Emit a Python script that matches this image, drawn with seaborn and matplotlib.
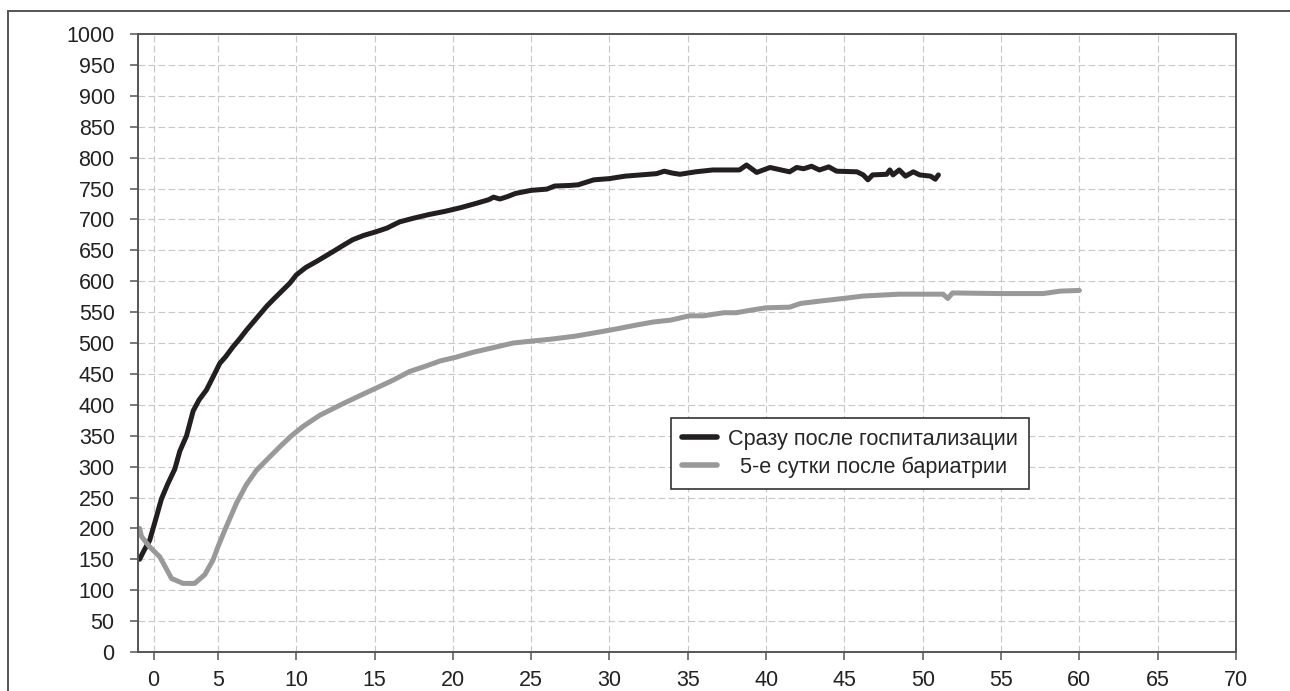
import matplotlib
matplotlib.use("Agg")
import matplotlib.pyplot as plt
import seaborn as sns
import pandas as pd
from matplotlib.patches import Rectangle

# curve 1: right after hospitalisation
black_x = [0.0, 0.3, 0.65, 1.0, 1.4, 1.8, 2.25, 2.57, 3.0, 3.42, 3.8, 4.27, 4.69, 5.12, 5.5,
           5.97, 6.4, 6.83, 7.5, 8.1, 8.6, 9.16, 9.6, 10.0, 10.6, 11.3, 12.36, 13.0, 13.6, 14.3,
           15.1, 15.8, 16.6, 17.5, 18.5, 19.5, 20.5, 21.5, 22.3, 22.6, 23.0, 23.5, 24.0, 25.0,
           26.0, 26.5, 27.5, 28.0, 29.0, 30.0, 31.0, 32.0, 33.0, 33.5, 34.0, 34.5, 35.5, 36.6,
           38.3, 38.75, 39.4, 40.25, 41.5, 41.95, 42.4, 42.9, 43.4, 44.0, 44.5, 45.8, 46.2,
           46.5, 46.8, 47.7, 47.9, 48.1, 48.5, 48.9, 49.4, 49.8, 50.5, 50.8, 51.0]
black_y = [150, 165, 181, 212, 248, 272, 296, 325, 350, 390, 408, 424, 445, 467, 478,
           494, 507, 521, 541, 559, 572, 586, 597, 610, 622, 632, 648, 658, 667, 674,
           680, 686, 696, 702, 708, 713, 719, 726, 732, 736, 733, 737, 742, 747,
           749, 754, 755, 756, 764, 766, 770, 772, 774, 778, 775, 773, 777, 780,
           780, 788, 776, 784, 777, 784, 782, 786, 780, 785, 778, 777, 772,
           764, 772, 773, 780, 772, 780, 770, 777, 772, 770, 765, 772]

# curve 2: 5th day after bariatric surgery
gray_x = [0.0, 0.05, 0.12, 0.65, 1.29, 1.7, 2.04, 2.78, 3.52, 4.16, 4.69, 5.0, 5.44, 6.19,
          6.8, 7.46, 8.2, 8.95, 9.7, 10.44, 11.5, 13.0, 14.0, 15.1, 16.2, 17.25, 18.2, 19.2,
          20.2, 21.3, 22.5, 23.85, 25.0, 26.2, 27.8, 29.4, 30.5, 31.7, 32.8, 33.9, 35.1, 36.0,
          37.3, 38.1, 39.0, 40.0, 41.5, 42.2, 43.5, 44.9, 46.2, 48.5, 51.3, 51.6, 51.9, 54.9,
          57.7, 58.8, 60.0]
gray_y = [200, 195, 187, 170, 154, 135, 119, 111, 111, 125, 149, 170, 197, 241,
          270, 294, 313, 332, 350, 365, 383, 402, 414, 427, 440, 454, 462, 471,
          477, 485, 492, 500, 503, 506, 511, 518, 523, 529, 534, 537, 544, 544,
          549, 549, 553, 557, 558, 564, 568, 572, 576, 579, 579, 572, 581, 580,
          580, 584, 585]

labels = ["Сразу после госпитализации", "5-е сутки после бариатрии"]
tick_labels = [str(v) for v in range(0, 71, 5)]

sns.set_theme(style="white")
plt.rcParams['font.family'] = ['Liberation Sans', 'DejaVu Sans']

df = pd.concat([
    pd.DataFrame({"x": black_x, "y": black_y, "series": labels[0]}),
    pd.DataFrame({"x": gray_x, "y": gray_y, "series": labels[1]}),
])

fig = plt.figure(figsize=(12.9, 6.91), dpi=100)
ax = fig.add_axes([138/1290, 1 - 652/691, (1236-138)/1290, (652-34)/691])

sns.lineplot(data=df, x="x", y="y", hue="series", estimator=None, sort=False,
             palette={labels[0]: "#231f20", labels[1]: "#999999"},
             linewidth=3.6, ax=ax)
for ln in ax.get_lines():
    ln.set_solid_capstyle("round")
    ln.set_solid_joinstyle("round")

ax.set_xlim(-0.1, 70)
ax.set_ylim(0, 1000)
ax.set_xticks([0.9] + list(range(5, 71, 5)))
ax.set_xticklabels(tick_labels)
ax.set_yticks(range(0, 1001, 50))
ax.set_xlabel("")
ax.set_ylabel("")

ax.grid(True, color="#c8c8c8", linestyle=(0, (6, 3)), linewidth=0.8)
for s in ax.spines.values():
    s.set_color("#555555")
    s.set_linewidth(1.4)
ax.tick_params(axis="both", direction="out", length=5.8, width=1.1, color="#555555",
               labelsize=15.5, labelcolor="#222222")
ax.tick_params(axis="y", pad=11, left=True)
ax.tick_params(axis="x", pad=7, bottom=True)

leg = ax.legend(loc="upper left", bbox_to_anchor=((671-138)/1098, (652-418)/618),
                borderaxespad=0, fontsize=15.6, frameon=True, fancybox=False,
                handlelength=1.6, handletextpad=0.55, borderpad=0.5, labelspacing=0.32,
                edgecolor="#333333", framealpha=1)
leg.get_frame().set_linewidth(1.2)
for h in leg.get_lines():
    h.set_linewidth(4)
    h.set_solid_capstyle("round")

# center the legend labels like the original
fig.canvas.draw()
texts = leg.get_texts()
widths = [t.get_window_extent().width for t in texts]
wmax = max(widths)
for t, w in zip(texts, widths):
    t.set_position(((wmax - w) / 2, 0))

fig.patches.append(Rectangle((8/1290, -0.1), 1.2, 0.1 + 1 - 10.5/691, transform=fig.transFigure,
                             fill=False, edgecolor="#555555", linewidth=1.4))

fig.savefig("out.png", dpi=100)
